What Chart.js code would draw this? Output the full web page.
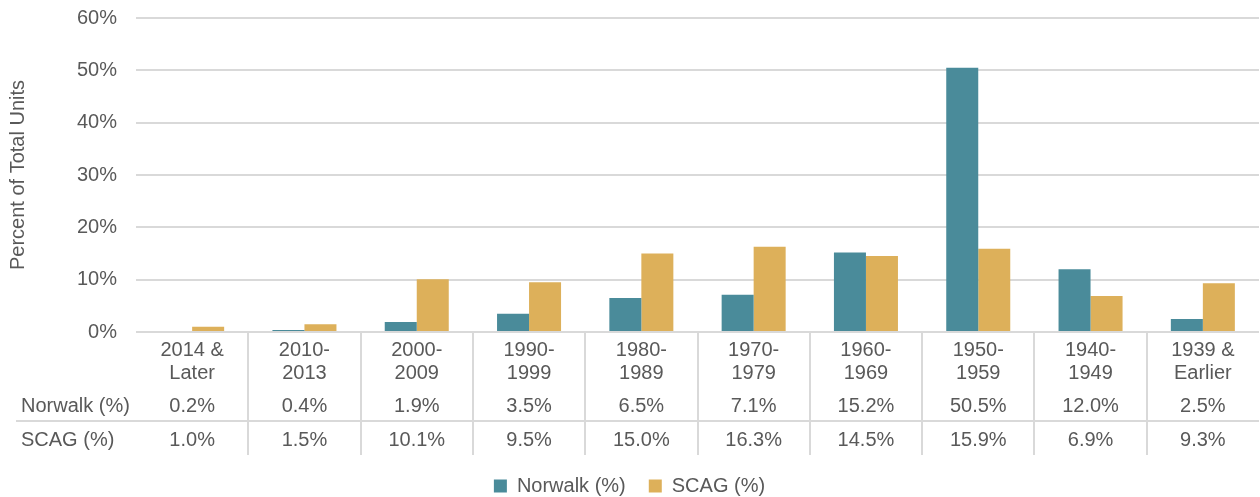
<!DOCTYPE html>
<html>
<head>
<meta charset="utf-8">
<script src="https://cdn.jsdelivr.net/npm/chart.js@4.4.0/dist/chart.umd.min.js"></script>
<style>
  html, body { margin: 0; padding: 0; background: #fff; }
  #wrap { width: 1260px; height: 497px; }
</style>
</head>
<body>
<div id="wrap"><canvas id="c" width="1260" height="497"></canvas></div>
<script>
const categories = [["2014 &","Later"],["2010-","2013"],["2000-","2009"],["1990-","1999"],["1980-","1989"],["1970-","1979"],["1960-","1969"],["1950-","1959"],["1940-","1949"],["1939 &","Earlier"]];
const norwalk = [0.2, 0.4, 1.9, 3.5, 6.5, 7.1, 15.2, 50.5, 12.0, 2.5];
const scag = [1.0, 1.5, 10.1, 9.5, 15.0, 16.3, 14.5, 15.9, 6.9, 9.3];
const seriesNames = ["Norwalk (%)", "SCAG (%)"];
const yTicks = [0, 10, 20, 30, 40, 50, 60];

const TEXT = "#595959";
const GRID = "#D9D9D9";
const FONT = "'Liberation Sans', Arial, sans-serif";

const tablePlugin = {
  id: 'dataTable',
  afterDraw(chart) {
    const ctx = chart.ctx;
    const x = chart.scales.x;
    const area = chart.chartArea;
    const n = categories.length;
    const step = (area.right - area.left) / n;
    ctx.save();
    ctx.strokeStyle = GRID;
    ctx.lineWidth = 2;
    for (let i = 1; i < n; i++) {
      const px = Math.round(area.left + step * i);
      ctx.beginPath();
      ctx.moveTo(px, area.bottom);
      ctx.lineTo(px, area.bottom + 123);
      ctx.stroke();
    }
    ctx.beginPath();
    ctx.moveTo(16, area.bottom + 89);
    ctx.lineTo(area.right, area.bottom + 89);
    ctx.stroke();
    ctx.fillStyle = TEXT;
    ctx.font = "20px " + FONT;
    ctx.textBaseline = 'middle';
    const rows = [[seriesNames[0], norwalk, area.bottom + 74], [seriesNames[1], scag, area.bottom + 108]];
    rows.forEach(([name, vals, py]) => {
      ctx.textAlign = 'left';
      ctx.fillText(name, 21, py);
      ctx.textAlign = 'center';
      vals.forEach((v, i) => {
        ctx.fillText(v.toFixed(1) + '%', x.getPixelForValue(i), py);
      });
    });
    ctx.restore();
  }
};

new Chart(document.getElementById('c'), {
  type: 'bar',
  data: {
    labels: categories,
    datasets: [
      { label: seriesNames[0], data: norwalk, backgroundColor: '#4A8B9A', barPercentage: 1.0, categoryPercentage: 0.57 },
      { label: seriesNames[1], data: scag, backgroundColor: '#DDB05A', barPercentage: 1.0, categoryPercentage: 0.57 }
    ]
  },
  options: {
    responsive: false,
    animation: false,
    layout: { padding: { top: 18, right: 1, left: 0, bottom: -9 } },
    plugins: {
      legend: {
        position: 'bottom',
        labels: { boxWidth: 13, boxHeight: 13, color: TEXT, font: { family: FONT, size: 20 }, padding: 23 }
      },
      tooltip: { enabled: false }
    },
    scales: {
      x: {
        grid: { display: false },
        border: { display: false },
        ticks: { color: TEXT, font: { family: FONT, size: 20, lineHeight: 1.15 }, padding: -1, maxRotation: 0, autoSkip: false },
        afterFit(scale) { scale.height = 121; }
      },
      y: {
        min: 0, max: 60,
        afterBuildTicks(scale) { scale.ticks = yTicks.map(v => ({ value: v })); },
        grid: { color: GRID, lineWidth: 2, drawTicks: false },
        border: { display: false },
        ticks: { color: TEXT, font: { family: FONT, size: 20 }, padding: 19, callback: v => v + '%' },
        title: { display: true, text: 'Percent of Total Units', color: TEXT, font: { family: FONT, size: 20 }, padding: { top: 6, bottom: 0 } },
        afterFit(scale) { scale.width = 136; scale.paddingTop = 0; scale.paddingBottom = 0; }
      }
    }
  },
  plugins: [tablePlugin]
});
</script>
</body>
</html>
